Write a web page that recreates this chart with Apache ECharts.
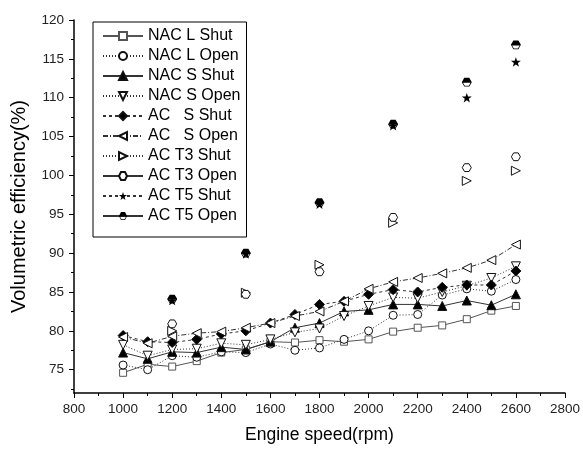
<!DOCTYPE html>
<html><head><meta charset="utf-8">
<script src="https://cdn.jsdelivr.net/npm/echarts@6/dist/echarts.min.js"></script>
<style>html,body{margin:0;padding:0;background:#fff}#c{width:583px;height:450px}</style>
</head><body><div id="c"></div>
<script>
// ---- data ----
const speeds = [1000,1100,1200,1300,1400,1500,1600,1700,1800,1900,2000,2100,2200,2300,2400,2500,2600];
const nacLShut = [74.6,75.7,75.4,76.1,77.2,77.6,78.6,78.5,78.8,78.6,78.9,79.9,80.4,80.7,81.5,82.6,83.2];
const nacLOpen = [75.6,75.0,76.8,76.6,77.3,77.2,78.3,77.5,77.8,78.9,80.0,82.0,82.1,84.6,85.4,85.1,86.6];
const nacSShut = [77.2,76.4,77.3,77.2,77.9,77.6,78.6,80.4,81.0,82.5,82.7,83.4,83.4,83.2,83.9,83.3,84.7];
const nacSOpen = [78.2,76.8,77.6,77.7,78.4,78.2,78.9,79.8,80.3,81.9,83.2,84.3,84.2,85.0,85.8,86.8,88.3];
const acSShut  = [79.4,78.6,78.5,78.9,79.6,80.0,81.0,82.1,83.4,83.8,84.7,85.3,85.0,85.6,85.9,85.9,87.7];
const acSOpen  = [79.2,78.4,79.3,79.7,79.9,80.4,81.0,81.9,82.5,83.8,85.4,86.3,86.8,87.4,88.1,89.1,91.1];

const sparseSpeeds = [1200,1500,1800,2100,2400,2600];
const acT3Shut = [80.0,84.9,88.5,93.9,99.3,100.6];
const acT3Open = [80.9,84.7,87.6,94.6,101.0,102.4];
const acT5Shut = [83.9,89.9,96.3,106.4,110.0,114.6];
const acT5Open = [84.1,90.0,96.5,106.6,112.0,116.8];

const seriesNames = ['NAC L Shut','NAC L Open','NAC S Shut','NAC S Open','AC   S Shut','AC   S Open','AC T3 Shut','AC T3 Open','AC T5 Shut','AC T5 Open'];
const yTickValues = [75,80,85,90,95,100,105,110,115,120];
const yMinorValues = [72.5,77.5,82.5,87.5,92.5,97.5,102.5,107.5,112.5,117.5];

// ---- symbols ----
const HEX = 'path://M-10,0L-5,-8.66L5,-8.66L10,0L5,8.66L-5,8.66Z';
const HALFHEX = 'path://M-10,0L-5,-8.66L5,-8.66L10,0L5,8.66L-5,8.66ZM-7.6,1.2L-4,7.1L4,7.1L7.6,1.2Z';
const STAR = 'path://M0,-10L2.35,-3.24L9.51,-3.09L3.8,1.24L5.88,8.09L0,4L-5.88,8.09L-3.8,1.24L-9.51,-3.09L-2.35,-3.24Z';

function pairs(xs, ys){ return xs.map((x,i)=>[x, ys[i]]); }

function mk(name, xs, ys, o){
  return {
    name: name, type: 'line', data: pairs(xs, ys),
    symbol: o.symbol, symbolSize: o.size, symbolRotate: o.rotate || 0, symbolKeepAspect: true,
    showSymbol: true,
    lineStyle: {color: o.line || '#333', width: 1, type: o.type || 'solid', opacity: o.hideLine ? 0 : 1},
    itemStyle: {color: o.fill, borderColor: o.stroke || '#111', borderWidth: o.bw == null ? 1 : o.bw},
    emphasis: {disabled: true},
    z: 2
  };
}

const series = [
  mk(seriesNames[0], speeds, nacLShut, {symbol:'rect', size:7, fill:'#fff', stroke:'#555', line:'#555'}),
  mk(seriesNames[1], speeds, nacLOpen, {symbol:'circle', size:8, fill:'#fff', type:[1,2]}),
  mk(seriesNames[2], speeds, nacSShut, {symbol:'triangle', size:9, fill:'#000'}),
  mk(seriesNames[3], speeds, nacSOpen, {symbol:'triangle', size:9, fill:'#fff', rotate:180, type:[1,2]}),
  mk(seriesNames[4], speeds, acSShut,  {symbol:'diamond', size:10, fill:'#000', type:[3,3]}),
  mk(seriesNames[5], speeds, acSOpen,  {symbol:'triangle', size:9, fill:'#fff', rotate:90, type:[5,2,1,2]}),
  mk(seriesNames[6], sparseSpeeds, acT3Shut, {symbol:'triangle', size:9, fill:'#fff', rotate:-90, type:[1,2], hideLine:true}),
  mk(seriesNames[7], sparseSpeeds, acT3Open, {symbol:HEX, size:9, fill:'#fff', hideLine:true}),
  mk(seriesNames[8], sparseSpeeds, acT5Shut, {symbol:STAR, size:10, fill:'#000', stroke:'#000', bw:0, type:[3,3], hideLine:true}),
  mk(seriesNames[9], sparseSpeeds, acT5Open, {symbol:HALFHEX, size:10, fill:'#000', stroke:'#000', bw:0, hideLine:true})
];

const legendData = seriesNames.map((n, i) => i >= 6 ? {name: n, lineStyle: {opacity: 1}} : {name: n});

const FONT = '"Liberation Sans", Arial, sans-serif';
const chart = echarts.init(document.getElementById('c'), null, {renderer: 'canvas'});
chart.setOption({
  animation: false,
  backgroundColor: '#fff',
  textStyle: {fontFamily: FONT},
  grid: {left: 74, right: 16, top: 20, bottom: 57, containLabel: false},
  legend: {
    orient: 'vertical', left: 93, top: 22,
    padding: [6, 6, 13, 9],
    itemWidth: 40, itemHeight: 10, itemGap: 4,
    borderColor: '#000', borderWidth: 1,
    selectedMode: false,
    textStyle: {fontSize: 16, lineHeight: 16, color: '#000', fontFamily: FONT},
    data: legendData
  },
  xAxis: {
    type: 'value', min: 800, max: 2800, interval: 200,
    name: 'Engine speed(rpm)', nameLocation: 'middle', nameGap: 33,
    nameTextStyle: {fontSize: 17.5, color: '#000', fontFamily: FONT},
    axisLine: {show: true, onZero: false, lineStyle: {color: '#000', width: 1.5}},
    axisTick: {show: true, length: 5, lineStyle: {color: '#000', width: 1}},
    minorTick: {show: true, splitNumber: 2, length: 3, lineStyle: {color: '#000', width: 1}},
    axisLabel: {fontSize: 13.5, color: '#222', margin: 9, fontFamily: FONT, formatter: v => String(v)},
    splitLine: {show: false}
  },
  yAxis: [{
    type: 'value', min: 72, max: 120,
    name: 'Volumetric efficiency(%)', nameLocation: 'middle', nameGap: 45,
    nameTextStyle: {fontSize: 20, color: '#000', fontFamily: FONT},
    axisLine: {show: true, onZero: false, lineStyle: {color: '#000', width: 1.5}},
    axisTick: {show: true, length: 5, customValues: yTickValues, lineStyle: {color: '#000', width: 1}},
    axisLabel: {fontSize: 13.5, color: '#222', margin: 10, customValues: yTickValues, fontFamily: FONT, formatter: v => String(v)},
    splitLine: {show: false}
  }, {
    type: 'value', min: 72, max: 120, position: 'left',
    axisLine: {show: false},
    axisTick: {show: true, length: 3, customValues: yMinorValues, lineStyle: {color: '#000', width: 1}},
    axisLabel: {show: false},
    splitLine: {show: false}
  }],
  series: series
});
</script>
</body></html>
